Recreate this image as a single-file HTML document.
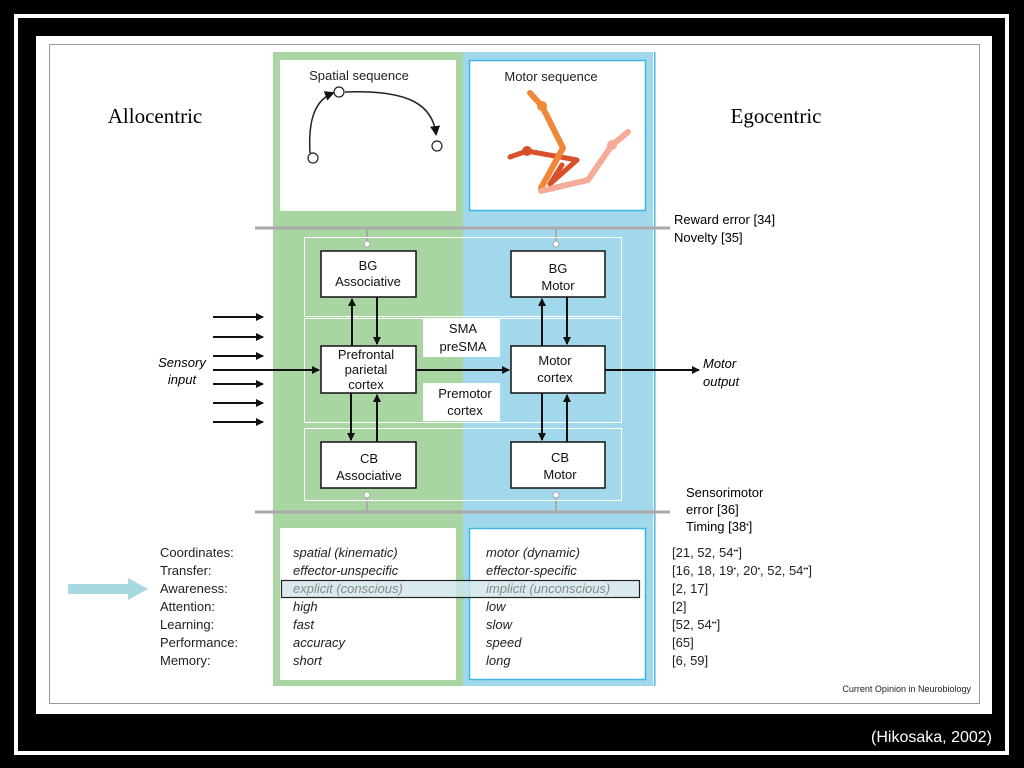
<!DOCTYPE html>
<html><head><meta charset="utf-8"><style>
html,body{margin:0;padding:0;background:#000;width:1024px;height:768px;overflow:hidden}
svg{display:block}
</style></head><body>
<svg width="1024" height="768" viewBox="0 0 1024 768" font-family="Liberation Sans, sans-serif">
<defs>
<marker id="a" markerWidth="8" markerHeight="8" refX="7" refY="4" orient="auto" markerUnits="userSpaceOnUse" viewBox="0 0 8 8"><path d="M0,0 L8,4 L0,8 z" fill="#111"/></marker>
<marker id="s" markerWidth="10" markerHeight="10" refX="8" refY="5" orient="auto" markerUnits="userSpaceOnUse" viewBox="0 0 10 10"><path d="M0,0 L10,5 L0,10 z" fill="#111"/></marker>
</defs>
<rect x="0" y="0" width="1024" height="768" fill="#000"/>
<rect x="16" y="16" width="991" height="737" fill="none" stroke="#fff" stroke-width="4"/>
<rect x="36" y="36" width="956" height="678" fill="#fff"/>
<rect x="49.5" y="44.5" width="930" height="659" fill="none" stroke="#999" stroke-width="1"/>
<rect x="273" y="52" width="190" height="634" fill="#a9d5a2"/>
<rect x="463" y="52" width="190" height="634" fill="#a2d8ec"/>
<rect x="654" y="52" width="1.5" height="634" fill="#4fb8e0"/>
<rect x="280" y="60" width="176" height="151" fill="#fff"/>
<rect x="469.5" y="60.5" width="176" height="150" fill="#fff" stroke="#3cb4e4" stroke-width="1.5"/>
<rect x="280" y="528" width="176" height="152" fill="#fff"/>
<rect x="469.5" y="528.5" width="176" height="151" fill="#fff" stroke="#3cb4e4" stroke-width="1.5"/>
<text x="359" y="80" font-size="13" text-anchor="middle" fill="#222">Spatial sequence</text>
<text x="551" y="81" font-size="13" text-anchor="middle" fill="#222">Motor sequence</text>
<text x="155" y="123" font-size="21" font-family="Liberation Serif, serif" text-anchor="middle">Allocentric</text>
<text x="776" y="123" font-size="21" font-family="Liberation Serif, serif" text-anchor="middle">Egocentric</text>
<path d="M310,153 C308,120 315,100 333,93" fill="none" stroke="#222" stroke-width="1.5" marker-end="url(#s)"/>
<path d="M345,92 C400,90 432,100 436,134" fill="none" stroke="#222" stroke-width="1.5" marker-end="url(#s)"/>
<circle cx="313" cy="158" r="5" fill="#fff" stroke="#222" stroke-width="1.2"/>
<circle cx="339" cy="92" r="5" fill="#fff" stroke="#222" stroke-width="1.2"/>
<circle cx="437" cy="146" r="5" fill="#fff" stroke="#222" stroke-width="1.2"/>
<g stroke-linecap="round" stroke-linejoin="round" fill="none">
<path d="M510,157 L527,151 L577,160 L550,184 L562,165" stroke="#d8502a" stroke-width="5"/>
<circle cx="527" cy="151" r="5" fill="#d8502a"/>
<path d="M530,93 L542,106 L563,148 L541,188" stroke="#f0883a" stroke-width="6"/>
<circle cx="542" cy="106" r="5" fill="#f0883a"/>
<path d="M628,132 L612,145 L588,180 L541,191" stroke="#f5ab98" stroke-width="6"/>
<circle cx="612" cy="145" r="5" fill="#f5ab98"/>
</g>
<line x1="255" y1="228" x2="670" y2="228" stroke="#aaa" stroke-width="3"/>
<line x1="255" y1="512" x2="670" y2="512" stroke="#aaa" stroke-width="3"/>
<line x1="367" y1="228" x2="367" y2="243" stroke="#aaa" stroke-width="2"/>
<line x1="556" y1="228" x2="556" y2="243" stroke="#aaa" stroke-width="2"/>
<line x1="367" y1="496" x2="367" y2="512" stroke="#aaa" stroke-width="2"/>
<line x1="556" y1="496" x2="556" y2="512" stroke="#aaa" stroke-width="2"/>
<g fill="none" stroke="#fff" stroke-width="1">
<rect x="304.5" y="237.5" width="317" height="79"/>
<rect x="304.5" y="318.5" width="317" height="104"/>
<rect x="304.5" y="428.5" width="317" height="72"/>
</g>
<g fill="#fff" stroke="#aaa"><circle cx="367" cy="244" r="3"/><circle cx="556" cy="244" r="3"/><circle cx="367" cy="495" r="3"/><circle cx="556" cy="495" r="3"/></g>
<text x="674" y="224" font-size="13">Reward error [34]</text>
<text x="674" y="242" font-size="13">Novelty [35]</text>
<text x="686" y="497" font-size="13">Sensorimotor</text>
<text x="686" y="514" font-size="13">error [36]</text>
<text x="686" y="531" font-size="13">Timing [38<tspan font-size="7" dy="-4">•</tspan><tspan dy="4">]</tspan></text>
<g fill="#fff" stroke="#111" stroke-width="1.5">
<rect x="321" y="251" width="95" height="46"/>
<rect x="511" y="251" width="94" height="46"/>
<rect x="321" y="346" width="95" height="47"/>
<rect x="511" y="346" width="94" height="47"/>
<rect x="321" y="442" width="95" height="46"/>
<rect x="511" y="442" width="94" height="46"/>
</g>
<rect x="423" y="318" width="77" height="39" fill="#fff"/>
<rect x="423" y="383" width="77" height="38" fill="#fff"/>
<g font-size="13" text-anchor="middle" fill="#111">
<text x="368" y="270">BG</text><text x="368" y="286">Associative</text>
<text x="558" y="273">BG</text><text x="558" y="290">Motor</text>
<text x="366" y="359">Prefrontal</text><text x="366" y="374">parietal</text><text x="366" y="389">cortex</text>
<text x="555" y="365">Motor</text><text x="555" y="382">cortex</text>
<text x="369" y="463">CB</text><text x="369" y="480">Associative</text>
<text x="560" y="462">CB</text><text x="560" y="479">Motor</text>
<text x="463" y="333">SMA</text><text x="463" y="351">preSMA</text>
<text x="465" y="398">Premotor</text><text x="465" y="415">cortex</text>
</g>
<g stroke="#111" stroke-width="2" marker-end="url(#a)">
<line x1="352" y1="346" x2="352" y2="299"/>
<line x1="377" y1="297" x2="377" y2="344"/>
<line x1="542" y1="346" x2="542" y2="299"/>
<line x1="567" y1="297" x2="567" y2="344"/>
<line x1="351" y1="393" x2="351" y2="440"/>
<line x1="377" y1="442" x2="377" y2="395"/>
<line x1="542" y1="393" x2="542" y2="440"/>
<line x1="567" y1="442" x2="567" y2="395"/>
<line x1="416" y1="370" x2="509" y2="370"/>
<line x1="605" y1="370" x2="699" y2="370"/>
<line x1="213" y1="370" x2="319" y2="370"/>
<line x1="213" y1="317" x2="263" y2="317"/>
<line x1="213" y1="337" x2="263" y2="337"/>
<line x1="213" y1="356" x2="263" y2="356"/>
<line x1="213" y1="384" x2="263" y2="384"/>
<line x1="213" y1="403" x2="263" y2="403"/>
<line x1="213" y1="422" x2="263" y2="422"/>
</g>
<text x="182" y="367" font-size="13" font-style="italic" text-anchor="middle">Sensory</text>
<text x="182" y="384" font-size="13" font-style="italic" text-anchor="middle">input</text>
<text x="703" y="368" font-size="13" font-style="italic">Motor</text>
<text x="703" y="386" font-size="13" font-style="italic">output</text>
<rect x="281.5" y="580.5" width="358" height="17" fill="#cfe6ea" fill-opacity="0.8" stroke="#222" stroke-width="1.2"/>
<path d="M68,584 L128,584 L128,578 L148,589 L128,600 L128,594 L68,594 z" fill="#a8d8e0"/>
<g font-size="13" fill="#222">
<text x="160" y="557">Coordinates:</text><text x="160" y="575">Transfer:</text><text x="160" y="593">Awareness:</text><text x="160" y="611">Attention:</text><text x="160" y="629">Learning:</text><text x="160" y="647">Performance:</text><text x="160" y="665">Memory:</text>
</g>
<g font-size="13" font-style="italic" fill="#222">
<text x="293" y="557">spatial (kinematic)</text><text x="293" y="575">effector-unspecific</text><text x="293" y="593" fill="#888">explicit (conscious)</text><text x="293" y="611">high</text><text x="293" y="629">fast</text><text x="293" y="647">accuracy</text><text x="293" y="665">short</text>
<text x="486" y="557">motor (dynamic)</text><text x="486" y="575">effector-specific</text><text x="486" y="593" fill="#888">implicit (unconscious)</text><text x="486" y="611">low</text><text x="486" y="629">slow</text><text x="486" y="647">speed</text><text x="486" y="665">long</text>
</g>
<g font-size="13" fill="#222">
<text x="672" y="557">[21, 52, 54<tspan font-size="7" dy="-4">••</tspan><tspan dy="4">]</tspan></text>
<text x="672" y="575">[16, 18, 19<tspan font-size="7" dy="-4">•</tspan><tspan dy="4">, 20</tspan><tspan font-size="7" dy="-4">•</tspan><tspan dy="4">, 52, 54</tspan><tspan font-size="7" dy="-4">••</tspan><tspan dy="4">]</tspan></text>
<text x="672" y="593">[2, 17]</text><text x="672" y="611">[2]</text>
<text x="672" y="629">[52, 54<tspan font-size="7" dy="-4">••</tspan><tspan dy="4">]</tspan></text>
<text x="672" y="647">[65]</text><text x="672" y="665">[6, 59]</text>
</g>
<text x="971" y="692" font-size="9" text-anchor="end" fill="#222">Current Opinion in Neurobiology</text>
<text x="992" y="742" font-size="16" text-anchor="end" fill="#fff">(Hikosaka, 2002)</text>
</svg>
</body></html>
